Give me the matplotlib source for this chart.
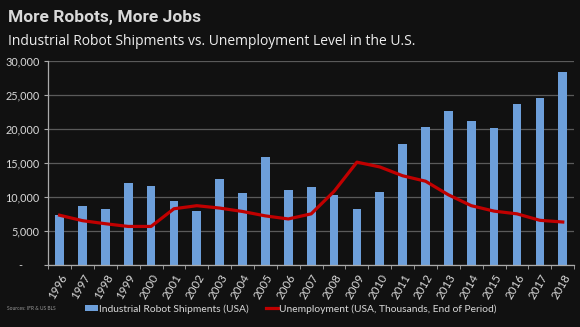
import matplotlib.pyplot as plt
from matplotlib import font_manager
from matplotlib.ticker import FuncFormatter

years = [str(y) for y in range(1996, 2019)]
robots = [7400, 8600, 8250, 12050, 11650, 9450, 7950, 12600, 10600, 15800, 10950,
          11400, 10200, 8250, 10700, 17800, 20250, 22600, 21200, 20150, 23600, 24600, 28400]
unemp = [7300, 6500, 6050, 5650, 5650, 8250, 8700, 8350, 7850, 7200, 6750,
         7500, 10800, 15100, 14400, 13100, 12300, 10300, 8700, 7900, 7500, 6550, 6300]

bg = "#111111"
txt = "#d9d9d9"
fnt = ["Lato", "DejaVu Sans"]

# schmale Schrift fuer den Titel, falls vorhanden
names = {f.name for f in font_manager.fontManager.ttflist}
if "Liberation Sans Narrow" in names:
    tfont, tsize = "Liberation Sans Narrow", 16
else:
    tfont, tsize = "Roboto", 12.5

fig = plt.figure(figsize=(5.8, 3.27), dpi=100, facecolor=bg)
ax = fig.add_axes([0.083, 0.19, 0.907, 0.624], facecolor=bg)

x = range(len(years))
bars = ax.bar(x, robots, width=0.38, color="#6d9fda", zorder=2)
line, = ax.plot(x, unemp, color="#c00000", lw=2.3, solid_joinstyle="round", zorder=3)

ax.set_xlim(-0.5, len(years) - 0.5)
ax.set_ylim(0, 30000)
ax.set_yticks(range(0, 30001, 5000))
ax.yaxis.set_major_formatter(FuncFormatter(lambda v, p: "-      " if v == 0 else f"{int(v):,}"))
ax.grid(axis="y", color="#5a5a5a", lw=0.9, zorder=0)

ax.set_xticks(list(x))
ax.set_xticklabels(years, rotation=60, ha="right", va="top", rotation_mode="anchor",
                   family=fnt)
ax.set_xticks([i - 0.5 for i in range(len(years) + 1)], minor=True)
ax.tick_params(axis="x", which="major", length=0, colors=txt, labelsize=8.3, pad=5)
ax.tick_params(axis="x", which="minor", length=3, color="#aaaaaa", direction="out")
ax.tick_params(axis="y", length=3, color="#aaaaaa", colors=txt, labelsize=7.8, pad=3)
for t in ax.get_yticklabels():
    t.set_family(fnt)

for s in ["top", "right"]:
    ax.spines[s].set_visible(False)
for s in ["left", "bottom"]:
    ax.spines[s].set_color("#aaaaaa")
    ax.spines[s].set_linewidth(0.9)

fig.text(0.014, 0.945, "More Robots, More Jobs", color=txt, fontsize=tsize, fontweight="bold",
         family=[tfont, "DejaVu Sans"], va="center")
fig.text(0.014, 0.872, "Industrial Robot Shipments vs. Unemployment Level in the U.S.",
         color="#eeeeee", fontsize=10, family=["Open Sans", "DejaVu Sans"], va="center")
fig.text(0.012, 0.052, "Sources: IFR & US BLS", color="#999999", fontsize=3.5, family=fnt)

fig.legend([bars, line],
           ["Industrial Robot Shipments (USA)", "Unemployment (USA, Thousands, End of Period)"],
           loc="center", bbox_to_anchor=(0.502, 0.055), ncol=2, frameon=False,
           prop={"family": fnt, "size": 7.4}, labelcolor=txt, handlelength=1.2,
           handleheight=0.5, handletextpad=0.15, columnspacing=1.6)

fig.savefig("out.png", facecolor=bg)
